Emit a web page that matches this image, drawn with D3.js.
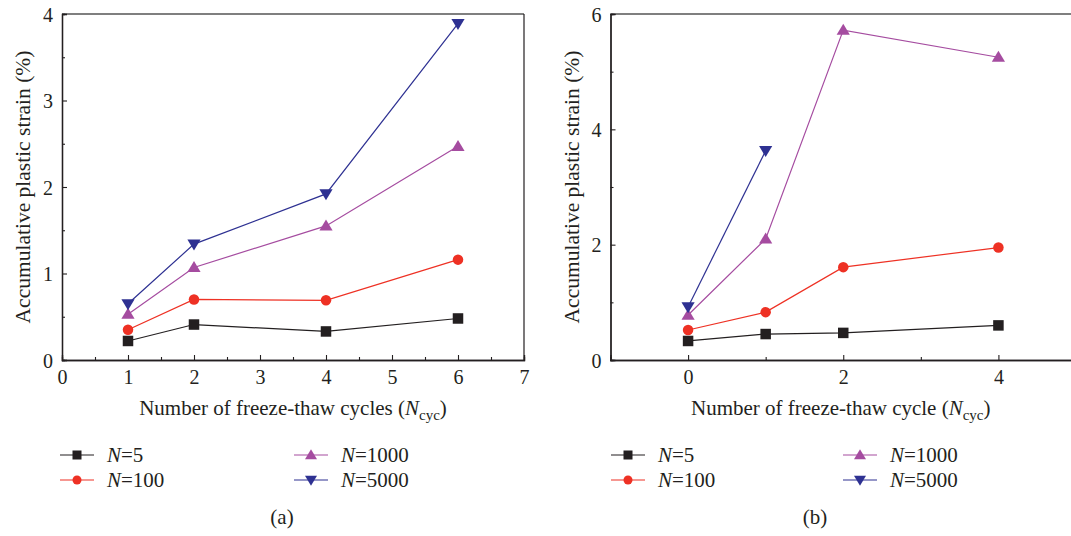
<!DOCTYPE html>
<html><head><meta charset="utf-8">
<script src="https://cdn.jsdelivr.net/npm/d3@7"></script>
<style>body{margin:0;background:#fff}svg{display:block}text{font-family:"Liberation Serif","Times New Roman","DejaVu Serif",serif;fill:#231f20}</style>
</head><body><svg id="c" width="1071" height="536"></svg>
<script>
// ---- data ----
const seriesNames = ["5", "100", "1000", "5000"];
const seriesColors = ["#231f20", "#ee3124", "#a54ca0", "#2e3192"];
const seriesSymbols = ["square", "circle", "tri", "tridown"];

const cyclesA = [1, 2, 4, 6];
const strainA_N5 = [0.22, 0.41, 0.33, 0.48];
const strainA_N100 = [0.35, 0.70, 0.69, 1.16];
const strainA_N1000 = [0.53, 1.07, 1.55, 2.47];
const strainA_N5000 = [0.65, 1.34, 1.92, 3.89];

const cyclesB = [0, 1, 2, 4];
const strainB_N5 = [0.33, 0.45, 0.47, 0.60];
const strainB_N100 = [0.52, 0.83, 1.61, 1.95];
const strainB_N1000 = [0.78, 2.10, 5.72, 5.25];
const cyclesB5000 = [0, 1];
const strainB_N5000 = [0.92, 3.63];

const xTicksA = [0,1,2,3,4,5,6,7];
const yTicksA = [0,1,2,3,4];
const xTicksB = [0,2,4];
const yTicksB = [0,2,4,6];

const FONT = '"Liberation Serif","Times New Roman","DejaVu Serif",serif';
const svg = d3.select("#c");

function marker(g, type, x, y, s, color){
  if(type==="square"){
    g.append("rect").attr("x",x-s/2).attr("y",y-s/2).attr("width",s).attr("height",s).attr("fill",color);
  } else if(type==="circle"){
    g.append("circle").attr("cx",x).attr("cy",y).attr("r",s/2).attr("fill",color);
  } else if(type==="tri"){
    const w=s*1.2, h=s;
    g.append("path").attr("d",`M${x-w/2},${y+h*0.42}L${x+w/2},${y+h*0.42}L${x},${y-h*0.58}Z`).attr("fill",color);
  } else {
    const w=s*1.2, h=s;
    g.append("path").attr("d",`M${x-w/2},${y-h*0.42}L${x+w/2},${y-h*0.42}L${x},${y+h*0.58}Z`).attr("fill",color);
  }
}

function panel(opt){
  const {x0,x1,y0,y1,xd,yd,xTicks,xMinor,yTicks,yMinor,series,rightBorder,xTitle,ylabX,legX,legX2,capX} = opt;
  const x = d3.scaleLinear().domain(xd).range([x0,x1]);
  const y = d3.scaleLinear().domain(yd).range([y1,y0]);
  const g = svg.append("g");
  g.append("line").attr("x1",x0).attr("x2",x1).attr("y1",y0).attr("y2",y0).attr("stroke","#555").attr("stroke-width",1.4);
  if(rightBorder) g.append("line").attr("x1",x1).attr("x2",x1).attr("y1",y0).attr("y2",y1).attr("stroke","#231f20").attr("stroke-width",1.2);
  const xa = d3.axisBottom(x).tickValues(xTicks).tickSize(-5).tickPadding(10).tickFormat(d3.format("d"));
  const xg = g.append("g").attr("transform",`translate(0,${y1})`).call(xa);
  const xm = g.append("g").attr("transform",`translate(0,${y1})`).call(d3.axisBottom(x).tickValues(xMinor).tickSize(-3).tickFormat(""));
  const ya = d3.axisLeft(y).tickValues(yTicks).tickSize(-5).tickPadding(9).tickFormat(d3.format("d"));
  const yg = g.append("g").attr("transform",`translate(${x0},0)`).call(ya);
  const ym = g.append("g").attr("transform",`translate(${x0},0)`).call(d3.axisLeft(y).tickValues(yMinor).tickSize(-3).tickFormat(""));
  [xg,xm,yg,ym].forEach(a=>{
    a.attr("font-family",null).attr("font-size",null);
    a.select(".domain").attr("stroke","#231f20").attr("stroke-width",1.3);
    a.selectAll(".tick line").attr("stroke","#231f20").attr("stroke-width",1.1);
    a.selectAll(".tick text").style("font-size","20px").style("font-family",FONT).attr("fill","#231f20");
  });
  xg.selectAll(".tick text").attr("dy","0.7em");
  yg.selectAll(".tick text").attr("dy","0.35em");
  const line = d3.line().x(d=>x(d[0])).y(d=>y(d[1]));
  series.forEach((s,i)=>{
    const pts = s.xs.map((v,j)=>[v,s.ys[j]]);
    g.append("path").attr("d",line(pts)).attr("fill","none").attr("stroke",seriesColors[i]).attr("stroke-width",1.2);
    const mg = g.append("g");
    pts.forEach(p=>marker(mg, seriesSymbols[i], x(p[0]), y(p[1]), i>=2?11:10.5, seriesColors[i]));
  });
  const xt = g.append("text").attr("x",(x0+Math.min(x1,1071))/2 + (opt.xtShift||0)).attr("y",415).attr("text-anchor","middle").style("font-size","21px");
  xt.append("tspan").text(xTitle+" (");
  xt.append("tspan").text("N").style("font-style","italic");
  xt.append("tspan").text("cyc").attr("dy",5).style("font-size","15px");
  xt.append("tspan").text(")").attr("dy",-5);
  g.append("text").attr("transform",`translate(${ylabX},${(y0+y1)/2}) rotate(-90)`).attr("text-anchor","middle").style("font-size","21.5px").text("Accumulative plastic strain (%)");
  const rows=[455,480];
  const legPos=[[legX,rows[0]],[legX,rows[1]],[legX2,rows[0]],[legX2,rows[1]]];
  seriesNames.forEach((n,i)=>{
    const [lx,ly]=legPos[i];
    g.append("line").attr("x1",lx).attr("x2",lx+34).attr("y1",ly).attr("y2",ly).attr("stroke",seriesColors[i]).attr("stroke-width",1.2);
    marker(g, seriesSymbols[i], lx+17, ly, i>=2?10:9, seriesColors[i]);
    const t=g.append("text").attr("x",lx+47).attr("y",ly+7).style("font-size","21px");
    t.append("tspan").text("N").style("font-style","italic");
    t.append("tspan").text("="+n);
  });
  g.append("text").attr("x",capX).attr("y",524).attr("text-anchor","middle").style("font-size","21px").text(opt.cap);
}

panel({x0:62,x1:524,y0:14,y1:360,xd:[0,7],yd:[0,4],
  xTicks:xTicksA,xMinor:d3.range(0.5,7,1),yTicks:yTicksA,yMinor:d3.range(0.5,4,1),
  series:[{xs:cyclesA,ys:strainA_N5},{xs:cyclesA,ys:strainA_N100},{xs:cyclesA,ys:strainA_N1000},{xs:cyclesA,ys:strainA_N5000}],
  rightBorder:true,xTitle:"Number of freeze-thaw cycles",ylabX:30,legX:60,legX2:294,capX:282,cap:"(a)"});

panel({x0:610.5,x1:1076,y0:14,y1:360,xd:[-1,5],yd:[0,6],
  xTicks:xTicksB,xMinor:[1,3],yTicks:yTicksB,yMinor:[1,3,5],
  series:[{xs:cyclesB,ys:strainB_N5},{xs:cyclesB,ys:strainB_N100},{xs:cyclesB,ys:strainB_N1000},{xs:cyclesB5000,ys:strainB_N5000}],
  rightBorder:false,xTitle:"Number of freeze-thaw cycle",ylabX:579,legX:611,legX2:843,capX:815,cap:"(b)",xtShift:0});
</script></body></html>
